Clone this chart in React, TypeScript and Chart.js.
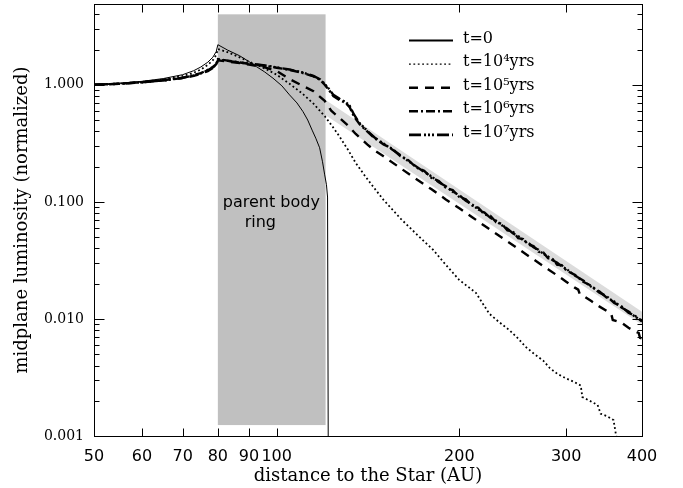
import React, { useEffect, useRef } from 'react';
import { Chart, registerables } from 'chart.js';

Chart.register(...registerables);

// ---- axes ----
const X_MIN = 50;
const X_MAX = 400;
const Y_MIN = 0.001;
const Y_MAX = 4.9;
const xTickValues = [50, 60, 70, 80, 90, 100, 200, 300, 400];
const yTickValues = [0.001, 0.01, 0.1, 1];
const yMinorTickValues = [
  0.002, 0.003, 0.004, 0.005, 0.006, 0.007, 0.008, 0.009,
  0.02, 0.03, 0.04, 0.05, 0.06, 0.07, 0.08, 0.09,
  0.2, 0.3, 0.4, 0.5, 0.6, 0.7, 0.8, 0.9,
  2, 3, 4,
];
const xTitle = 'distance to the Star (AU)';
const yTitle = 'midplane luminosity (normalized)';

// ---- parent body ring (grey box) ----
const ringX = [80, 120.4];
const ringY = [0.00124, 4.0];
const ringLabels = ['parent body', 'ring'];
const ringLabelX = [98, 94];
const ringLabelY = [0.098, 0.066];

// ---- light grey band ----
const bandX = [120.4, 400];
const bandTop = [0.74, 0.0115];
const bandBottom = [0.55, 0.0089];

// ---- t = 0 ----
const t0X = [50, 55, 60, 65, 70, 73, 75, 77, 78.5, 79.5, 80, 83, 86.9, 90, 92.6, 95.5, 98.6, 102, 105, 108, 110.5, 112.5, 114.4, 116, 117.7, 119, 120, 120.8, 121.3, 121.6];
const t0Y = [1.0, 1.03, 1.07, 1.13, 1.22, 1.32, 1.42, 1.56, 1.72, 1.92, 2.2, 1.98, 1.77, 1.58, 1.43, 1.29, 1.14, 0.98, 0.82, 0.7, 0.59, 0.5, 0.41, 0.35, 0.29, 0.22, 0.17, 0.14, 0.11, 0.001];

// ---- t = 1e4 yrs ----
const t4X = [50, 55, 60, 65, 70, 73, 75, 77, 78.5, 79.5, 80, 83, 86, 90, 95, 100, 105, 110, 115, 120, 124, 127, 131, 135, 140, 145, 150, 160, 170, 181, 190, 200, 213, 224, 232, 242, 250, 257, 266, 275, 282, 290, 300, 309, 317, 319, 328, 338, 342, 350, 359, 362, 363];
const t4Y = [1.0, 1.025, 1.06, 1.11, 1.19, 1.27, 1.35, 1.48, 1.62, 1.8, 2.02, 1.9, 1.76, 1.58, 1.4, 1.22, 1.02, 0.85, 0.69, 0.54, 0.43, 0.36, 0.28, 0.215, 0.165, 0.13, 0.104, 0.072, 0.053, 0.039, 0.029, 0.0215, 0.0167, 0.0111, 0.0095, 0.008, 0.0068, 0.0058, 0.005, 0.0044, 0.0038, 0.0034, 0.0031, 0.0029, 0.0027, 0.00215, 0.002, 0.00184, 0.00155, 0.00148, 0.00137, 0.00106, 0.00098];

// ---- t = 1e5 yrs ----
const t5X = [50, 55, 60, 65, 70, 73, 75, 77, 78.5, 79.5, 80, 83, 87, 90, 95, 100, 105, 110, 115, 120, 123, 127, 131, 135, 141, 145, 150, 160, 170, 180, 190, 200, 210, 220, 230, 240, 250, 260, 270, 280, 290, 300, 310, 314, 316, 320, 330, 340, 350, 356, 358, 370, 380, 390, 395, 397, 400];
const t5Y = [1.0, 1.02, 1.05, 1.09, 1.14, 1.19, 1.24, 1.31, 1.39, 1.47, 1.62, 1.58, 1.53, 1.49, 1.42, 1.31, 1.12, 0.99, 0.88, 0.73, 0.6, 0.52, 0.45, 0.38, 0.31, 0.275, 0.245, 0.194, 0.156, 0.128, 0.105, 0.088, 0.074, 0.0625, 0.0535, 0.046, 0.0398, 0.0345, 0.0302, 0.0266, 0.0235, 0.0208, 0.0185, 0.0178, 0.0162, 0.0158, 0.0142, 0.0128, 0.0117, 0.011, 0.0098, 0.0093, 0.0084, 0.0078, 0.0076, 0.0069, 0.0068];

// ---- t = 1e6 yrs ----
const t6X = [50, 55, 60, 65, 70, 73, 75, 77, 78.5, 79.5, 80, 83, 87, 90, 95, 100, 105, 110, 115, 118, 120, 122, 124, 127, 130, 132, 134, 137, 141, 145, 150, 155, 160, 165, 170, 175, 180, 185, 190, 195, 200, 205, 210, 215, 220, 225, 230, 235, 240, 245, 250, 255, 260, 265, 270, 275, 280, 285, 290, 295, 300, 310, 320, 330, 340, 350, 360, 370, 380, 390, 400];
const t6Y = [1.0, 1.02, 1.055, 1.095, 1.15, 1.21, 1.26, 1.34, 1.42, 1.5, 1.66, 1.61, 1.55, 1.51, 1.46, 1.4, 1.34, 1.27, 1.18, 1.1, 1.0, 0.9, 0.8, 0.74, 0.7, 0.64, 0.54, 0.46, 0.4, 0.35, 0.31, 0.285, 0.245, 0.226, 0.196, 0.184, 0.16, 0.151, 0.132, 0.126, 0.11, 0.105, 0.093, 0.089, 0.078, 0.076, 0.067, 0.065, 0.057, 0.056, 0.049, 0.048, 0.043, 0.042, 0.0375, 0.037, 0.033, 0.0325, 0.029, 0.0288, 0.026, 0.0238, 0.0208, 0.0192, 0.0168, 0.0156, 0.0137, 0.0128, 0.0113, 0.0106, 0.0095];

// ---- t = 1e7 yrs ----
const t7X = [50, 55, 60, 65, 70, 73, 75, 77, 78.5, 79.5, 80, 83, 87, 90, 95, 100, 105, 110, 115, 118, 120, 122, 124, 127, 130, 132, 134, 137, 141, 145, 150, 155, 160, 165, 170, 175, 180, 185, 190, 195, 200, 205, 210, 215, 220, 225, 230, 235, 240, 245, 250, 255, 260, 265, 270, 275, 280, 285, 290, 295, 300, 310, 320, 330, 340, 350, 360, 370, 380, 390, 400];
const t7Y = [1.0, 1.02, 1.05, 1.09, 1.145, 1.2, 1.25, 1.33, 1.41, 1.48, 1.64, 1.6, 1.55, 1.52, 1.47, 1.41, 1.35, 1.28, 1.19, 1.11, 1.02, 0.92, 0.82, 0.76, 0.71, 0.66, 0.56, 0.47, 0.405, 0.355, 0.315, 0.28, 0.25, 0.222, 0.2, 0.18, 0.165, 0.147, 0.136, 0.122, 0.114, 0.102, 0.095, 0.086, 0.081, 0.073, 0.069, 0.063, 0.059, 0.054, 0.051, 0.047, 0.0445, 0.041, 0.039, 0.036, 0.0342, 0.0317, 0.0302, 0.028, 0.0268, 0.0235, 0.0213, 0.0188, 0.0172, 0.0152, 0.0141, 0.0125, 0.0116, 0.0104, 0.0097];

const seriesLabels = ['t=0', 't=10⁴yrs', 't=10⁵yrs', 't=10⁶yrs', 't=10⁷yrs'];

const zip = (xs: number[], ys: number[]) => xs.map((x, i) => ({ x, y: ys[i] }));

const lineStyles = [
  { width: 1, dash: [] as number[], legendWidth: 2 },
  { width: 1.8, dash: [1.8, 2.6], legendWidth: 1.3 },
  { width: 2.4, dash: [9, 7], legendWidth: 2.6 },
  { width: 2.4, dash: [9, 3, 2, 3], legendWidth: 2.6 },
  { width: 2.4, dash: [12, 3, 2, 2, 2, 2, 2, 3], legendWidth: 2.6 },
];

const decorPlugin = {
  id: 'decor',
  beforeDatasetsDraw(chart: any) {
    const { ctx, scales } = chart;
    const xs = scales.x;
    const ys = scales.y;
    const l = xs.getPixelForValue(ringX[0]);
    const r = xs.getPixelForValue(ringX[1]);
    const t = ys.getPixelForValue(ringY[1]);
    const b = ys.getPixelForValue(ringY[0]);
    ctx.save();
    ctx.fillStyle = '#c0c0c0';
    ctx.fillRect(l, t, r - l, b - t);
    ctx.restore();
  },
  afterDatasetsDraw(chart: any) {
    const { ctx, scales, chartArea } = chart;
    const xs = scales.x;
    const ys = scales.y;
    ctx.save();
    // ring label
    ctx.fillStyle = '#000';
    ctx.font = '16px "DejaVu Sans"';
    ctx.textAlign = 'center';
    ctx.textBaseline = 'middle';
    ringLabels.forEach((s, i) => {
      ctx.fillText(s, xs.getPixelForValue(ringLabelX[i]), ys.getPixelForValue(ringLabelY[i]));
    });

    // frame
    const L = Math.round(chartArea.left) + 0.5;
    const R = Math.round(chartArea.right) + 0.5;
    const T = Math.round(chartArea.top) + 0.5;
    const B = Math.round(chartArea.bottom) + 0.5;
    ctx.strokeStyle = '#000';
    ctx.lineWidth = 1;
    ctx.setLineDash([]);
    ctx.strokeRect(L, T, R - L, B - T);
    ctx.beginPath();
    xTickValues.forEach((v) => {
      const p = Math.round(xs.getPixelForValue(v)) + 0.5;
      ctx.moveTo(p, B);
      ctx.lineTo(p, B - 8);
      ctx.moveTo(p, T);
      ctx.lineTo(p, T + 8);
    });
    yTickValues.forEach((v) => {
      const p = Math.round(ys.getPixelForValue(v)) + 0.5;
      ctx.moveTo(L, p);
      ctx.lineTo(L + 10, p);
      ctx.moveTo(R, p);
      ctx.lineTo(R - 10, p);
    });
    yMinorTickValues.forEach((v) => {
      const p = Math.round(ys.getPixelForValue(v)) + 0.5;
      ctx.moveTo(L, p);
      ctx.lineTo(L + 5, p);
      ctx.moveTo(R, p);
      ctx.lineTo(R - 5, p);
    });
    ctx.stroke();

    // legend
    const lx0 = 409;
    const lx1 = 453;
    const ly0 = 40.5;
    const gap = 23.6;
    ctx.font = '16px "DejaVu Serif"';
    ctx.textAlign = 'left';
    ctx.textBaseline = 'alphabetic';
    seriesLabels.forEach((s, i) => {
      const y = ly0 + i * gap;
      ctx.beginPath();
      ctx.setLineDash(lineStyles[i].dash);
      ctx.lineWidth = lineStyles[i].legendWidth;
      ctx.moveTo(lx0, y);
      ctx.lineTo(lx1, y);
      ctx.stroke();
      ctx.setLineDash([]);
      ctx.fillText(s, 463, y + 2);
    });
    ctx.restore();
  },
};

export default function App() {
  const ref = useRef<HTMLCanvasElement>(null);
  useEffect(() => {
    if (!ref.current) return;
    const xsData = [t0X, t4X, t5X, t6X, t7X];
    const ysData = [t0Y, t4Y, t5Y, t6Y, t7Y];
    const datasets: any[] = xsData.map((xs, i) => ({
      label: seriesLabels[i],
      data: zip(xs, ysData[i]),
      borderColor: '#000',
      borderWidth: lineStyles[i].width,
      borderDash: lineStyles[i].dash,
      borderCapStyle: 'butt',
      pointRadius: 0,
      fill: false,
      tension: 0,
    }));
    datasets.push({
      label: 'band top',
      data: zip(bandX, bandTop),
      borderColor: 'rgba(0,0,0,0)',
      borderWidth: 0,
      backgroundColor: '#dcdcdc',
      pointRadius: 0,
      fill: '+1',
    });
    datasets.push({
      label: 'band bottom',
      data: zip(bandX, bandBottom),
      borderColor: 'rgba(0,0,0,0)',
      borderWidth: 0,
      pointRadius: 0,
      fill: false,
    });
    const chart = new Chart(ref.current, {
      type: 'line',
      data: { datasets },
      plugins: [decorPlugin],
      options: {
        responsive: false,
        animation: false,
        devicePixelRatio: 1,
        layout: { padding: { top: 4, right: 41, left: 0, bottom: 0 } },
        plugins: { legend: { display: false }, tooltip: { enabled: false } },
        scales: {
          x: {
            type: 'logarithmic',
            min: X_MIN,
            max: X_MAX,
            grid: { display: false, drawTicks: false },
            border: { display: false },
            afterBuildTicks: (s: any) => {
              s.ticks = xTickValues.map((v) => ({ value: v }));
            },
            afterFit: (s: any) => {
              s.height = 52;
              s.paddingLeft = 0;
              s.paddingRight = 0;
            },
            ticks: {
              autoSkip: false,
              maxRotation: 0,
              minRotation: 0,
              padding: 11,
              color: '#000',
              font: { family: 'DejaVu Sans', size: 16 },
              callback: (v: any) => String(v),
            },
            title: {
              display: true,
              text: xTitle,
              color: '#000',
              font: { family: 'DejaVu Serif', size: 18 },
              padding: { top: 0, bottom: 0.5 },
            },
          },
          y: {
            type: 'logarithmic',
            min: Y_MIN,
            max: Y_MAX,
            grid: { display: false, drawTicks: false },
            border: { display: false },
            afterBuildTicks: (s: any) => {
              s.ticks = yTickValues.map((v) => ({ value: v }));
            },
            afterFit: (s: any) => {
              s.width = 94;
              s.paddingTop = 0;
              s.paddingBottom = 0;
            },
            ticks: {
              padding: 10,
              color: '#000',
              font: { family: 'DejaVu Serif', size: 14 },
              callback: (v: any) => Number(v).toFixed(3),
            },
            title: {
              display: true,
              text: yTitle,
              color: '#000',
              font: { family: 'DejaVu Serif', size: 18 },
              padding: { top: 12, bottom: 0 },
            },
          },
        },
      } as any,
    });
    return () => chart.destroy();
  }, []);
  return (
    <div style={{ position: 'fixed', left: 0, top: 0, width: 683, height: 488, background: '#fff' }}>
      <canvas ref={ref} width={683} height={488} style={{ display: 'block' }} />
    </div>
  );
}
